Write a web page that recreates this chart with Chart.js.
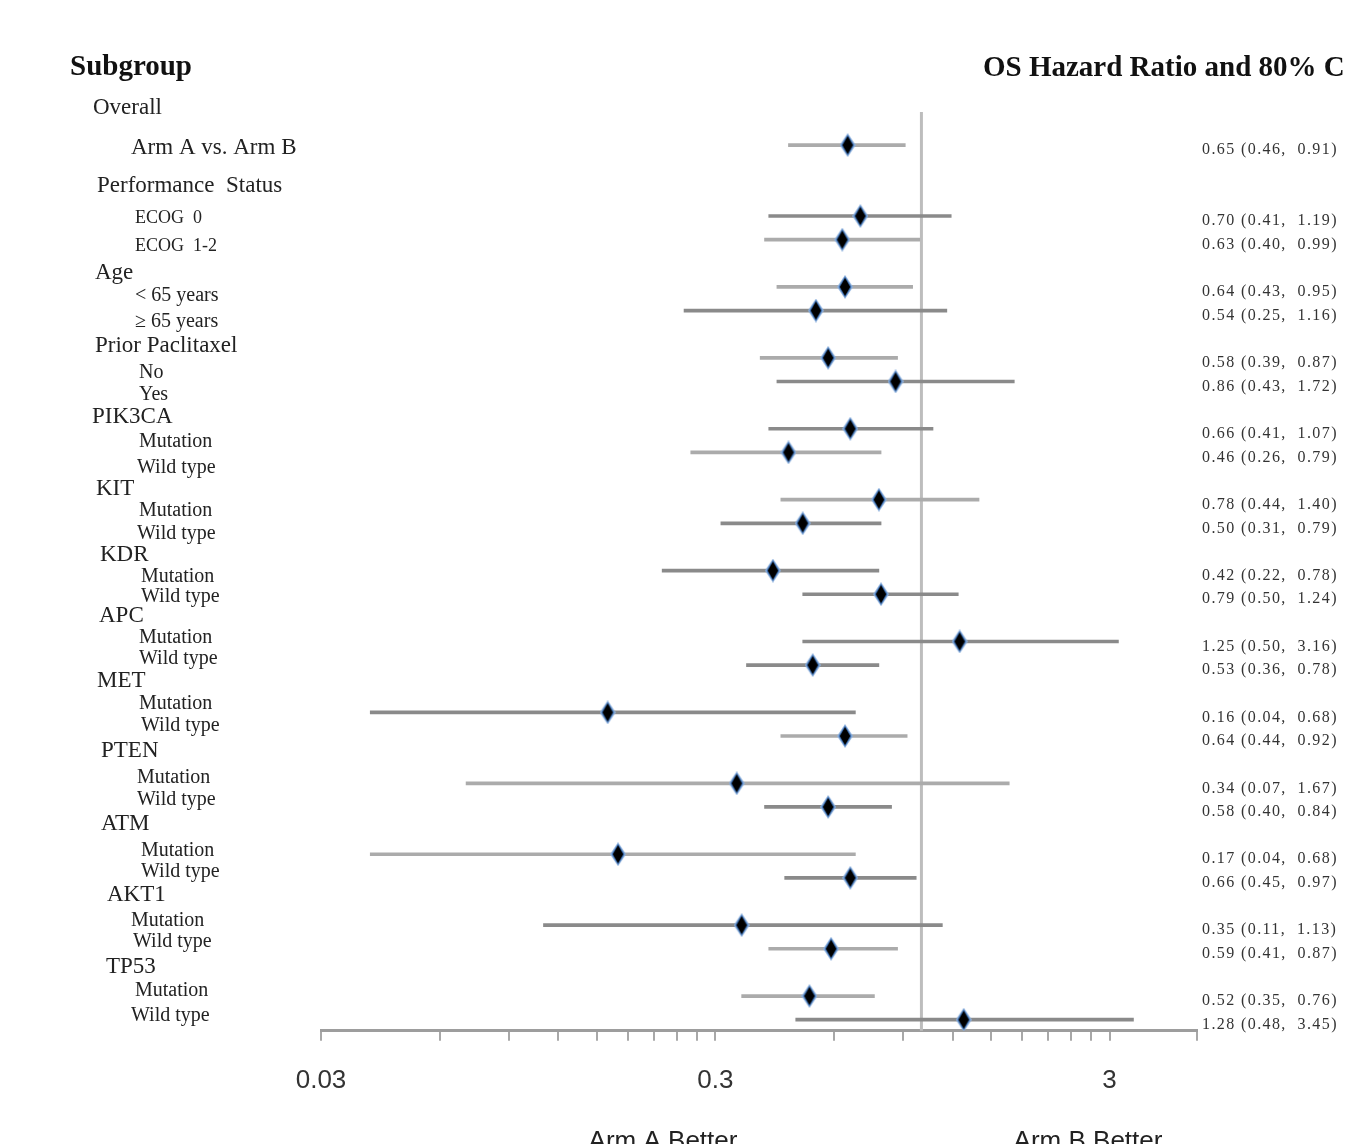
<!DOCTYPE html>
<html>
<head>
<meta charset="utf-8">
<script src="https://cdn.jsdelivr.net/npm/chart.js@4.4.1/dist/chart.umd.min.js"></script>
<style>
  body { margin: 0; background: #fff; }
  canvas { display: block; }
</style>
</head>
<body>
<canvas id="forest" width="1345" height="1144"></canvas>
<script>
// plotted rows, top to bottom
const rowNames = ['Overall', 'ECOG 0', 'ECOG 1-2', '< 65 years', '≥ 65 years', 'Paclitaxel No', 'Paclitaxel Yes',
  'PIK3CA Mut', 'PIK3CA WT', 'KIT Mut', 'KIT WT', 'KDR Mut', 'KDR WT', 'APC Mut', 'APC WT',
  'MET Mut', 'MET WT', 'PTEN Mut', 'PTEN WT', 'ATM Mut', 'ATM WT', 'AKT1 Mut', 'AKT1 WT', 'TP53 Mut', 'TP53 WT'];
const hr    = [0.65, 0.70, 0.63, 0.64, 0.54, 0.58, 0.86, 0.66, 0.46, 0.78, 0.50, 0.42, 0.79, 1.25, 0.53, 0.16, 0.64, 0.34, 0.58, 0.17, 0.66, 0.35, 0.59, 0.52, 1.28];
const lower = [0.46, 0.41, 0.40, 0.43, 0.25, 0.39, 0.43, 0.41, 0.26, 0.44, 0.31, 0.22, 0.50, 0.50, 0.36, 0.04, 0.44, 0.07, 0.40, 0.04, 0.45, 0.11, 0.41, 0.35, 0.48];
const upper = [0.91, 1.19, 0.99, 0.95, 1.16, 0.87, 1.72, 1.07, 0.79, 1.40, 0.79, 0.78, 1.24, 3.16, 0.78, 0.68, 0.92, 1.67, 0.84, 0.68, 0.97, 1.13, 0.87, 0.76, 3.45];
// row slot on the y axis (gaps hold the group headers)
const rowSlot = [0, 3, 4, 6, 7, 9, 10, 12, 13, 15, 16, 18, 19, 21, 22, 24, 25, 27, 28, 30, 31, 33, 34, 36, 37];
const lightLine = [1, 0, 1, 1, 0, 1, 0, 0, 1, 1, 0, 0, 0, 0, 0, 0, 1, 1, 0, 1, 0, 0, 1, 1, 0];

const tickValues = [0.03, 0.06, 0.09, 0.12, 0.15, 0.18, 0.21, 0.24, 0.27, 0.3,
  0.6, 0.9, 1.2, 1.5, 1.8, 2.1, 2.4, 2.7, 3, 5];
const labeledTicks = [0.03, 0.3, 3];
const refValue = 1;

// left text column: text, slot, x, kind
const leftLabels = [
  ['Overall', -1.57, 93, 'h'], ['Arm A vs. Arm B', 0.13, 131, 'a'],
  ['Performance  Status', 1.74, 97, 'h'], ['ECOG  0', 3.09, 135, 'e'], ['ECOG  1-2', 4.28, 135, 'e'],
  ['Age', 5.42, 95, 'h'], ['< 65 years', 6.39, 135, 's'], ['≥ 65 years', 7.49, 135, 's'],
  ['Prior Paclitaxel', 8.51, 95, 'h'], ['No', 9.61, 139, 's'], ['Yes', 10.58, 139, 's'],
  ['PIK3CA', 11.52, 92, 'h'], ['Mutation', 12.53, 139, 's'], ['Wild type', 13.63, 137, 's'],
  ['KIT', 14.56, 96, 'h'], ['Mutation', 15.45, 139, 's'], ['Wild type', 16.43, 137, 's'],
  ['KDR', 17.36, 100, 'h'], ['Mutation', 18.25, 141, 's'], ['Wild type', 19.09, 141, 's'],
  ['APC', 19.94, 99, 'h'], ['Mutation', 20.83, 139, 's'], ['Wild type', 21.72, 139, 's'],
  ['MET', 22.69, 97, 'h'], ['Mutation', 23.62, 139, 's'], ['Wild type', 24.56, 141, 's'],
  ['PTEN', 25.61, 101, 'h'], ['Mutation', 26.76, 137, 's'], ['Wild type', 27.69, 137, 's'],
  ['ATM', 28.7, 101, 'h'], ['Mutation', 29.85, 141, 's'], ['Wild type', 30.74, 141, 's'],
  ['AKT1', 31.71, 107, 'h'], ['Mutation', 32.81, 131, 's'], ['Wild type', 33.7, 133, 's'],
  ['TP53', 34.76, 106, 'h'], ['Mutation', 35.77, 135, 's'], ['Wild type', 36.83, 131, 's']
];
const fontFor = { h: '23px', a: '23px', s: '20px', e: '18px' };

// tall diamond marker with a blue rim
function makeMarker() {
  const c = document.createElement('canvas');
  c.width = 16; c.height = 24;
  const g = c.getContext('2d');
  g.fillStyle = '#8fb2de';
  g.beginPath(); g.moveTo(8, 0); g.lineTo(16, 12); g.lineTo(8, 24); g.lineTo(0, 12); g.closePath(); g.fill();
  g.fillStyle = '#3a6db0';
  g.beginPath(); g.moveTo(8, 1.5); g.lineTo(14.5, 12); g.lineTo(8, 22.5); g.lineTo(1.5, 12); g.closePath(); g.fill();
  g.fillStyle = '#000';
  g.beginPath(); g.moveTo(8, 3); g.lineTo(13.2, 12); g.lineTo(8, 21); g.lineTo(2.8, 12); g.closePath(); g.fill();
  return c;
}

const forestText = {
  id: 'forestText',
  beforeDatasetsDraw(chart) {
    const { ctx, chartArea, scales: { x } } = chart;
    const px = x.getPixelForValue(refValue);
    ctx.save();
    ctx.strokeStyle = '#bdbdbd';
    ctx.lineWidth = 3;
    ctx.beginPath();
    ctx.moveTo(px, chartArea.top);
    ctx.lineTo(px, chartArea.bottom);
    ctx.stroke();
    ctx.restore();
  },
  afterDraw(chart) {
    const { ctx, scales: { x, y } } = chart;
    ctx.save();
    ctx.fillStyle = '#111';
    ctx.textBaseline = 'middle';
    ctx.font = 'bold 29px "Liberation Serif", serif';
    ctx.fillText('Subgroup', 70, 68);
    ctx.fillText('OS Hazard Ratio and 80% CI', 983, 69);

    ctx.fillStyle = '#222';
    leftLabels.forEach(([t, s, lx, k]) => {
      ctx.font = fontFor[k] + ' "Liberation Serif", serif';
      ctx.fillText(t, lx, y.getPixelForValue(s));
    });

    ctx.fillStyle = '#333';
    ctx.font = '16px "Liberation Serif", serif';
    ctx.letterSpacing = '1.4px';
    hr.forEach((v, i) => {
      const txt = v.toFixed(2) + ' (' + lower[i].toFixed(2) + ',  ' + upper[i].toFixed(2) + ')';
      ctx.fillText(txt, 1202, y.getPixelForValue(rowSlot[i]) + 5);
    });
    ctx.letterSpacing = '0px';

    ctx.fillStyle = '#222';
    ctx.textAlign = 'center';
    ctx.textBaseline = 'alphabetic';
    ctx.font = '26px "Liberation Sans", sans-serif';
    ctx.fillText('Arm A Better', 663, 1149);
    ctx.fillText('Arm B Better', 1088, 1149);
    ctx.restore();
  }
};

new Chart(document.getElementById('forest'), {
  data: {
    datasets: [
      {
        type: 'scatter',
        data: hr.map((v, i) => ({ x: v, y: rowSlot[i] })),
        pointStyle: makeMarker(),
        pointRadius: 8,
        order: 0
      },
      {
        type: 'bar',
        indexAxis: 'y',
        data: rowNames.map((n, i) => ({ y: rowSlot[i], x: [lower[i], upper[i]] })),
        backgroundColor: lightLine.map(l => l ? '#ababab' : '#8a8a8a'),
        barThickness: 3,
        grouped: false,
        borderWidth: 0,
        order: 1
      }
    ]
  },
  options: {
    responsive: false,
    animation: false,
    layout: { padding: { left: 321, right: 148, top: 112, bottom: 24 } },
    plugins: { legend: { display: false }, tooltip: { enabled: false } },
    scales: {
      x: {
        type: 'logarithmic',
        position: 'bottom',
        min: 0.03,
        max: 5,
        afterBuildTicks: s => { s.ticks = tickValues.map(v => ({ value: v })); },
        border: { display: true, color: '#9d9d9d', width: 3 },
        grid: { display: true, drawOnChartArea: false, drawTicks: true, tickLength: 10, color: '#a8a8a8', lineWidth: 2 },
        ticks: {
          autoSkip: false,
          maxRotation: 0,
          padding: 24,
          color: '#333',
          font: { family: '"Liberation Sans", sans-serif', size: 26 },
          callback: v => labeledTicks.includes(v) ? String(v) : ''
        }
      },
      y: {
        type: 'linear',
        display: false,
        reverse: true,
        offset: false,
        min: -1.4,
        max: 37.47
      }
    }
  },
  plugins: [forestText]
});
</script>
</body>
</html>
